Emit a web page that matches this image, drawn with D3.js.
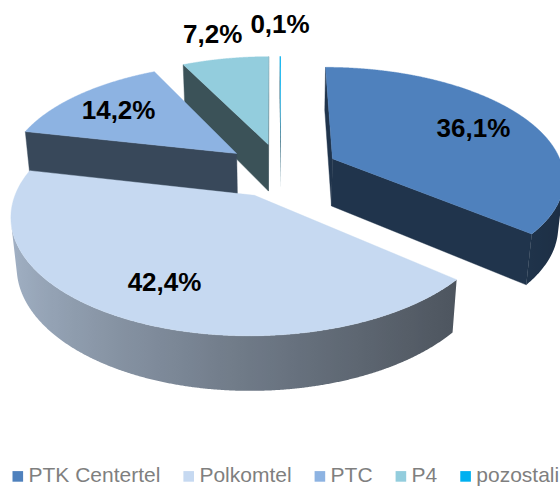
<!DOCTYPE html>
<html><head><meta charset="utf-8">
<script src="https://cdn.jsdelivr.net/npm/d3@7"></script>
<style>body{margin:0;background:#fff}svg{display:block}</style>
</head><body>
<svg id="chart" width="560" height="486"></svg>
<script>
// ---- data ----
const categories = ["PTK Centertel", "Polkomtel", "PTC", "P4", "pozostali"];
const shares = [36.1, 42.4, 14.2, 7.2, 0.1];
const shareLabels = ["36,1%", "42,4%", "14,2%", "7,2%", "0,1%"];
const colors = ["#4F81BD", "#C6D9F1", "#8DB3E2", "#93CDDD", "#00B0F0"];

// ---- 3D view settings ----
const view = {cx: 281, cy: 170, scale: 231, k: 0.18, tilt: 28.2 * Math.PI / 180,
              height: 0.24, explode: 0.25};
const sT = Math.sin(view.tilt), cT = Math.cos(view.tilt);

function project(X, Y, Z) {
  const depth = 1 + view.k * (Y * cT - Z * sT);
  return [view.cx + view.scale * X / depth,
          view.cy - view.scale * (Y * sT + Z * cT) / depth];
}
const cam = [0, -cT / view.k, sT / view.k];
function facing(P, n) {
  return (cam[0]-P[0])*n[0] + (cam[1]-P[1])*n[1] + (cam[2]-P[2])*n[2] > 0;
}
function shadeColor(c, f) {
  const col = d3.rgb(c);
  return d3.rgb(col.r * f, col.g * f, col.b * f).toString();
}
function sideFactor(theta) {
  return 0.6 + 0.24 * Math.cos(theta - 280 * Math.PI / 180);
}

const svg = d3.select("#chart");
const defs = svg.append("defs");
const pie = d3.pie().sort(null).value(d => d)(shares);

const slices = pie.map((p, i) => {
  const mid = (p.startAngle + p.endAngle) / 2;
  const ox = view.explode * Math.sin(mid), oy = view.explode * Math.cos(mid);
  return {i, a0: p.startAngle, a1: p.endAngle, mid, ox, oy,
          depthKey: oy + 0.5 * Math.cos(mid)};
});
slices.sort((a, b) => b.depthKey - a.depthKey);

const line = d3.line();
const step = Math.PI / 720;
const hgt = view.height;

slices.forEach(s => {
  const g = svg.append("g");
  const base = colors[s.i];
  const seam = (s.a1 - s.a0) > 0.05 ? 0.4 : 0;
  const rim = (t, z) => [s.ox + Math.sin(t), s.oy + Math.cos(t), z];
  const apexT = [s.ox, s.oy, 0], apexB = [s.ox, s.oy, -hgt];
  const P = a => project(a[0], a[1], a[2]);
  const thetas = [];
  const n = Math.max(2, Math.ceil((s.a1 - s.a0) / step));
  for (let j = 0; j <= n; j++) thetas.push(s.a0 + (s.a1 - s.a0) * j / n);

  // radial faces
  const faces = [
    {t: s.a0, n: [-Math.cos(s.a0), Math.sin(s.a0), 0]},
    {t: s.a1, n: [Math.cos(s.a1), -Math.sin(s.a1), 0]}
  ];
  faces.forEach(f => {
    if (!facing(apexT, f.n)) return;
    const pts = [P(apexT), P(rim(f.t, 0)), P(rim(f.t, -hgt)), P(apexB)];
    g.append("path").attr("d", line(pts) + "Z")
      .attr("fill", shadeColor(base, 0.4))
      .attr("stroke", shadeColor(base, 0.4)).attr("stroke-width", seam);
  });

  // outer side
  const vis = thetas.filter(t => facing(rim(t, 0), [Math.sin(t), Math.cos(t), 0]));
  if (vis.length > 1) {
    const top = vis.map(t => P(rim(t, 0)));
    const bot = vis.map(t => P(rim(t, -hgt))).reverse();
    const xs = top.map(p => p[0]);
    const x0 = d3.min(xs), x1 = d3.max(xs);
    const gid = "side" + s.i;
    const grad = defs.append("linearGradient").attr("id", gid)
      .attr("gradientUnits", "userSpaceOnUse")
      .attr("x1", x0).attr("x2", x1).attr("y1", 0).attr("y2", 0);
    const stops = vis.map((t, j) => ({off: x1 > x0 ? (xs[j] - x0) / (x1 - x0) : 0,
                                      c: shadeColor(base, sideFactor(t))}))
      .filter((d, j) => j % 8 === 0 || j === vis.length - 1)
      .sort((a, b) => a.off - b.off);
    grad.selectAll("stop").data(stops).join("stop")
      .attr("offset", d => d.off).attr("stop-color", d => d.c);
    g.append("path").attr("d", line(top.concat(bot)) + "Z")
      .attr("fill", `url(#${gid})`);
  }

  // top face
  const topPts = [P(apexT)].concat(thetas.map(t => P(rim(t, 0))));
  g.append("path").attr("d", line(topPts) + "Z")
    .attr("fill", base).attr("stroke", base).attr("stroke-width", seam);
});

// ---- data labels ----
const labelG = svg.append("g")
  .attr("font-family", "'Liberation Sans', Arial, sans-serif")
  .attr("font-weight", "bold").attr("font-size", 26).attr("fill", "#000")
  .attr("text-anchor", "middle");
pie.forEach((p, i) => {
  const mid = (p.startAngle + p.endAngle) / 2;
  const r = shares[i] >= 10 ? 0.73 : (shares[i] >= 1 ? 1.35 : 1.45);
  const X = view.explode * Math.sin(mid) + r * Math.sin(mid);
  const Y = view.explode * Math.cos(mid) + r * Math.cos(mid);
  const pt = project(X, Y, 0);
  labelG.append("text").attr("x", pt[0]).attr("y", pt[1] + 9.3).text(shareLabels[i]);
});

// ---- legend ----
const legend = svg.append("g")
  .attr("font-family", "'Liberation Sans', Arial, sans-serif")
  .attr("font-size", 21).attr("fill", "#7F7F7F");
let lx = 12.5;
const ly = 481.7, sq = 10.6;
categories.forEach((c, i) => {
  legend.append("rect").attr("x", lx).attr("y", ly - sq).attr("width", sq).attr("height", sq)
    .attr("fill", colors[i]);
  const t = legend.append("text").attr("x", lx + 16).attr("y", ly).text(c);
  lx = lx + 16 + t.node().getComputedTextLength() + 23;
});
</script>
</body></html>
